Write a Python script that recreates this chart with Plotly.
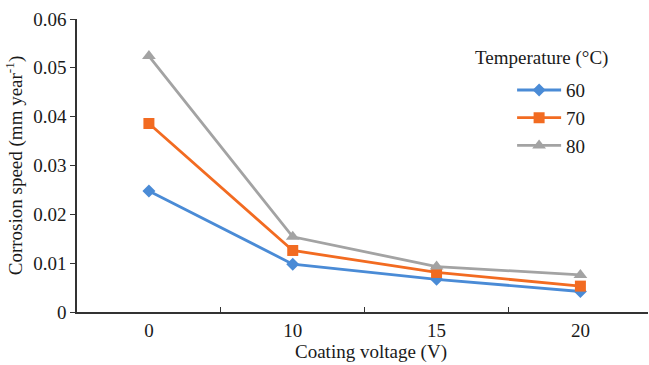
import plotly.graph_objects as go

voltages = ["0", "10", "15", "20"]
temps = ["60", "70", "80"]
speed_60 = [0.0248, 0.0098, 0.0067, 0.0042]
speed_70 = [0.0386, 0.0126, 0.0081, 0.0053]
speed_80 = [0.0524, 0.0154, 0.0093, 0.0076]
y_ticks = [0, 0.01, 0.02, 0.03, 0.04, 0.05, 0.06]
y_tick_text = ["0", "0.01", "0.02", "0.03", "0.04", "0.05", "0.06"]

colors = ["#4a8bd6", "#f26b21", "#a3a3a3"]
symbols = ["diamond", "square", "triangle-up"]
sizes = [10, 11, 12]
font = "Liberation Serif"
fs = 19

fig = go.Figure()
for name, vals, c, s, sz in zip(temps, [speed_60, speed_70, speed_80], colors, symbols, sizes):
    fig.add_trace(go.Scatter(
        x=voltages, y=vals, name=name, mode="lines+markers",
        line=dict(color=c, width=2.8),
        marker=dict(symbol=s, size=sz, color=c),
    ))

fig.update_layout(
    width=649, height=365,
    margin=dict(l=77, r=1, t=19, b=53, autoexpand=False),
    paper_bgcolor="white", plot_bgcolor="white",
    font=dict(family=font, size=fs, color="#1a1a1a"),
    showlegend=True,
    legend=dict(x=0.762, y=0.822, xanchor="left", yanchor="top",
                font=dict(family=font, size=fs, color="#1a1a1a"),
                tracegroupgap=0, itemwidth=44, bgcolor="rgba(0,0,0,0)"),
    xaxis=dict(type="category", range=[-0.5, 3.47], tickson="boundaries",
               ticks="inside", ticklen=5, tickcolor="#333", tickwidth=1,
               showline=True, linecolor="#333", linewidth=1.5,
               showgrid=False, zeroline=False, automargin=False,
               tickfont=dict(family=font, size=fs)),
    yaxis=dict(range=[0, 0.06], tickvals=y_ticks, ticktext=y_tick_text,
               ticks="outside", ticklen=5, tickcolor="#333", tickwidth=1,
               showline=True, linecolor="#333", linewidth=1.5,
               showgrid=False, zeroline=False, automargin=False,
               tickfont=dict(family=font, size=fs),
               title=dict(text="Corrosion speed (mm year<sup>-1</sup>)", standoff=6,
                          font=dict(family=font, size=fs))),
    annotations=[
        dict(text="Temperature (°C)", xref="paper", yref="paper",
             x=0.814, y=0.867, xanchor="center", yanchor="middle",
             showarrow=False, font=dict(family=font, size=fs, color="#1a1a1a")),
        dict(text="Coating voltage (V)", xref="paper", yref="paper",
             x=0.515, y=-0.137, xanchor="center", yanchor="middle",
             showarrow=False, font=dict(family=font, size=fs, color="#1a1a1a")),
    ],
)

fig.write_html("out.html", config={"displayModeBar": False},
               post_script="document.body.style.margin='0';document.body.style.padding='0';")
